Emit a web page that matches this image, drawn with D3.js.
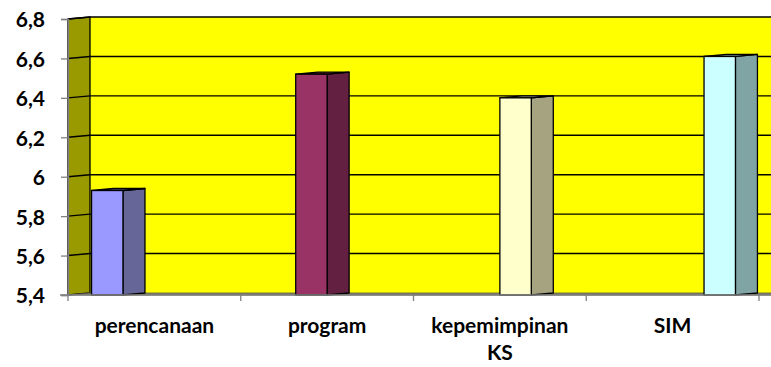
<!DOCTYPE html>
<html>
<head>
<meta charset="utf-8">
<script src="https://cdn.jsdelivr.net/npm/d3@7"></script>
<style>
  html, body { margin: 0; padding: 0; background: #ffffff; }
  svg { display: block; }
  text { font-family: Lato, "Open Sans", sans-serif; font-weight: bold; fill: #000; }
</style>
</head>
<body>
<svg id="chart" width="771" height="367"></svg>
<script>
// ---- data ----
const categories = ["perencanaan", "program", "kepemimpinan KS", "SIM"];
const series = ["perencanaan", "program", "kepemimpinan KS", "SIM"];
const values = [5.93, 6.52, 6.40, 6.61];
const yTicks = [5.4, 5.6, 5.8, 6.0, 6.2, 6.4, 6.6, 6.8];
const frontColors = ["#9999FF", "#993366", "#FFFFCC", "#CCFFFF"];
const sideColors = ["#666699", "#642041", "#A6A480", "#80A3A3"];

// ---- layout ----
const W = 771, H = 367;
const pLeft = 68, pRight = 759, pTop = 19, pBottom = 295;
const dx = 22, dy = -2;      // 3D depth offset
const fontSize = 21;
const wrapWidth = 150;
const lineGap = 27;

const svg = d3.select("#chart");

const y = d3.scaleLinear().domain([yTicks[0], yTicks[yTicks.length - 1]]).range([pBottom, pTop]);
const x = d3.scaleBand().domain(categories).range([pLeft, pRight]).paddingInner(0).paddingOuter(0);
const xs = d3.scaleBand().domain(series).range([0, x.bandwidth()]).paddingInner(0).paddingOuter(0.75);

const y0 = y.domain()[0], y1 = y.domain()[1];
const locale = d3.formatLocale({ decimal: ",", thousands: ".", grouping: [3], currency: ["", ""] });
const fmt = locale.format(".1~f");

// back wall
svg.append("polygon")
  .attr("points", [[pLeft + dx, y(y1) + dy], [pRight + dx + 40, y(y1) + dy], [pRight + dx + 40, y(y0) + dy], [pLeft + dx, y(y0) + dy]].join(" "))
  .attr("fill", "#FFFF00");

// side wall
svg.append("polygon")
  .attr("points", [[pLeft, y(y1)], [pLeft + dx, y(y1) + dy], [pLeft + dx, y(y0) + dy], [pLeft, y(y0)]].join(" "))
  .attr("fill", "#999900")
  .attr("stroke", "#000").attr("stroke-width", 1.3);

// gridlines
const grid = svg.append("g");
yTicks.forEach(t => {
  if (t === y0) return;
  grid.append("polyline")
    .attr("points", [[pLeft, y(t)], [pLeft + dx, y(t) + dy], [W + 10, y(t) + dy]].join(" "))
    .attr("fill", "none").attr("stroke", "#000").attr("stroke-width", 1.4);
});

// floor
svg.append("polygon")
  .attr("points", [[pLeft, y(y0)], [pLeft + dx, y(y0) + dy], [W + 10, y(y0) + dy], [W + 10, y(y0)]].join(" "))
  .attr("fill", "#8a8a60").attr("stroke", "#555").attr("stroke-width", 0.8);

// bars (clustered, one series per category)
const bars = svg.append("g");
categories.forEach((c, i) => {
  const v = values[i];
  const s = series[i];
  const bx = x(c) + xs(s);
  const bw = xs.bandwidth();
  const yt = y(v), yb = y(y0);
  bars.append("polygon")
    .attr("points", [[bx + bw, yt], [bx + bw + dx, yt + dy], [bx + bw + dx, yb + dy], [bx + bw, yb]].join(" "))
    .attr("fill", sideColors[i]).attr("stroke", "#000").attr("stroke-width", 1.3).attr("stroke-linejoin", "round");
  bars.append("polygon")
    .attr("points", [[bx, yt], [bx + dx, yt + dy], [bx + bw + dx, yt + dy], [bx + bw, yt]].join(" "))
    .attr("fill", sideColors[i]).attr("stroke", "#000").attr("stroke-width", 1.3).attr("stroke-linejoin", "round");
  bars.append("rect")
    .attr("x", bx).attr("y", yt).attr("width", bw).attr("height", yb - yt)
    .attr("fill", frontColors[i]).attr("stroke", "#000").attr("stroke-width", 1.3);
});

// y axis
const yAxis = svg.append("g")
  .attr("transform", `translate(${pLeft},0)`)
  .call(d3.axisLeft(y).tickValues(yTicks).tickFormat(fmt).tickSize(7).tickPadding(16));
yAxis.select(".domain").attr("stroke", "#808080").attr("stroke-width", 1.3);
yAxis.selectAll(".tick line").attr("stroke", "#808080").attr("stroke-width", 1.3);
yAxis.selectAll(".tick text")
  .attr("font-size", fontSize).attr("font-family", "Lato, sans-serif").attr("font-weight", "bold")
  .attr("dy", "0.38em").attr("fill", "#000");

// x axis: domain line + boundary ticks
const xAxisG = svg.append("g").attr("transform", `translate(0,${pBottom})`);
xAxisG.append("line").attr("x1", pLeft - 8).attr("x2", W).attr("y1", 0).attr("y2", 0)
  .attr("stroke", "#808080").attr("stroke-width", 1.3);
const bounds = categories.map(c => x(c)).concat([x.range()[1]]);
xAxisG.selectAll("line.bt").data(bounds).join("line").attr("class", "bt")
  .attr("x1", d => d).attr("x2", d => d).attr("y1", 0).attr("y2", 6)
  .attr("stroke", "#808080").attr("stroke-width", 1.3);

// category labels
const labels = svg.append("g")
  .attr("transform", `translate(0,${pBottom})`)
  .call(d3.axisBottom(x).tickSize(0).tickPadding(0));
labels.select(".domain").remove();
labels.selectAll(".tick text")
  .attr("font-size", fontSize).attr("font-family", "Lato, sans-serif").attr("font-weight", "bold")
  .attr("fill", "#000")
  .attr("dy", null)
  .each(function (d) {
    const t = d3.select(this);
    const words = d.split(" ");
    t.text(null);
    let line = [];
    let lineNo = 0;
    let tspan = t.append("tspan").attr("x", 0).attr("y", 38);
    words.forEach(w => {
      line.push(w);
      tspan.text(line.join(" "));
      if (tspan.node().getComputedTextLength() > wrapWidth && line.length > 1) {
        line.pop();
        tspan.text(line.join(" "));
        line = [w];
        lineNo++;
        tspan = t.append("tspan").attr("x", 0).attr("y", 38 + lineNo * lineGap).text(w);
      }
    });
  });
</script>
</body>
</html>
